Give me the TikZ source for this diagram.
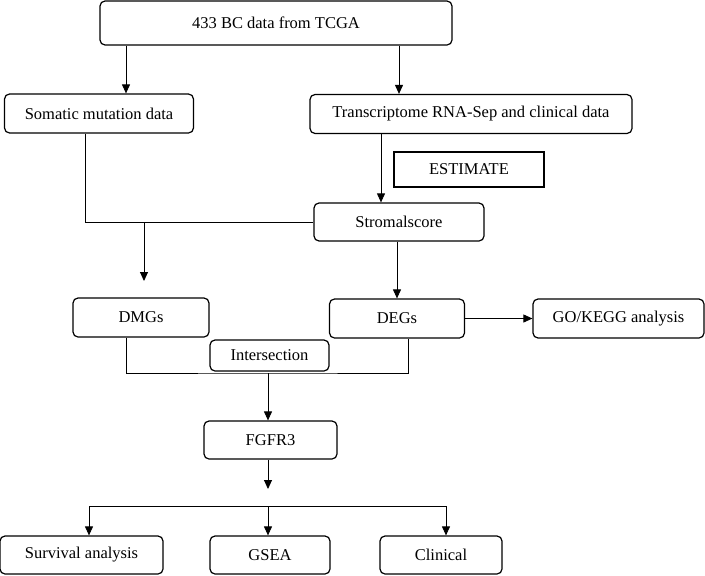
\documentclass[tikz,border=0pt]{standalone}
\usepackage{fontspec}
\setmainfont{Liberation Serif}
\usetikzlibrary{arrows.meta}
\begin{document}
\begin{tikzpicture}[x=1pt,y=-1pt,
  box/.style={draw,line width=1.2pt,rounded corners=5pt,inner sep=0pt,align=center,
    font=\fontsize{16.5}{19}\selectfont},
  plainbox/.style={draw,line width=1.2pt,inner sep=0pt,align=center,
    font=\fontsize{16.5}{19}\selectfont},
  ln/.style={line width=0.9pt},
  arr/.style={line width=0.9pt,-{Triangle[length=9pt,width=8pt]}}]
\useasboundingbox (0,0) rectangle (705,576);
\node[box,minimum width=352pt,minimum height=44pt] (top) at (276,23) {433 BC data from TCGA};
\node[box,minimum width=189pt,minimum height=39pt] (som) at (99,113.5) {Somatic mutation data};
\node[box,minimum width=322pt,minimum height=39pt] (tra) at (471,114) {Transcriptome RNA-Sep and clinical data};
\node[plainbox,minimum width=150pt,minimum height=35pt] (est) at (469,169.5) {ESTIMATE};
\node[box,minimum width=170pt,minimum height=38pt] (str) at (399,222) {Stromalscore};
\node[box,minimum width=136pt,minimum height=39pt] (dmg) at (141,317.5) {DMGs};
\node[box,minimum width=135pt,minimum height=39pt] (deg) at (397,318.5) {DEGs};
\node[box,minimum width=171pt,minimum height=39pt] (go) at (618.5,318.5) {GO/KEGG analysis};
\node[box,minimum width=119pt,minimum height=31pt] (int) at (269.5,355.5) {Intersection};
\node[box,minimum width=133pt,minimum height=38pt] (fg) at (270.5,440) {FGFR3};
\node[box,minimum width=163pt,minimum height=38pt] (sur) at (81.5,555) {Survival analysis};
\node[box,minimum width=120pt,minimum height=38pt] (gsea) at (270,555) {GSEA};
\node[box,minimum width=122pt,minimum height=38pt] (cli) at (441,555) {Clinical};
% helper coordinates
\coordinate (xa) at (126,0);
\coordinate (xb) at (399,0);
\coordinate (xc) at (381,0);
\coordinate (xd) at (85,0);
\coordinate (xg) at (397,0);
\coordinate (j1) at (144,222);
\coordinate (t1) at (144,281);
\coordinate (xe) at (126,0);
\coordinate (xf) at (408,0);
\coordinate (b) at (268,373);
\coordinate (t2) at (268,489);
\coordinate (h) at (268,506);
\coordinate (hl) at (89,506);
\coordinate (hr) at (446,506);
% connectors
\draw[arr] (top.south -| xa) -- (som.north -| xa);
\draw[arr] (top.south -| xb) -- (tra.north -| xb);
\draw[arr] (tra.south -| xc) -- (str.north -| xc);
\draw[ln] (som.south -| xd) |- (str.west);
\draw[arr] (j1) -- (t1);
\draw[arr] (str.south -| xg) -- (deg.north -| xg);
\draw[arr] (deg.east) -- (go.west);
\draw[ln] (dmg.south -| xe) |- (b) -| (deg.south -| xf);
\draw[arr] (b) -- (fg.north -| b);
\draw[arr] (fg.south -| t2) -- (t2);
\draw[ln] (hl) -- (hr);
\draw[arr] (hl) -- (sur.north -| hl);
\draw[arr] (h) -- (gsea.north -| h);
\draw[arr] (hr) -- (cli.north -| hr);
\end{tikzpicture}
\end{document}
